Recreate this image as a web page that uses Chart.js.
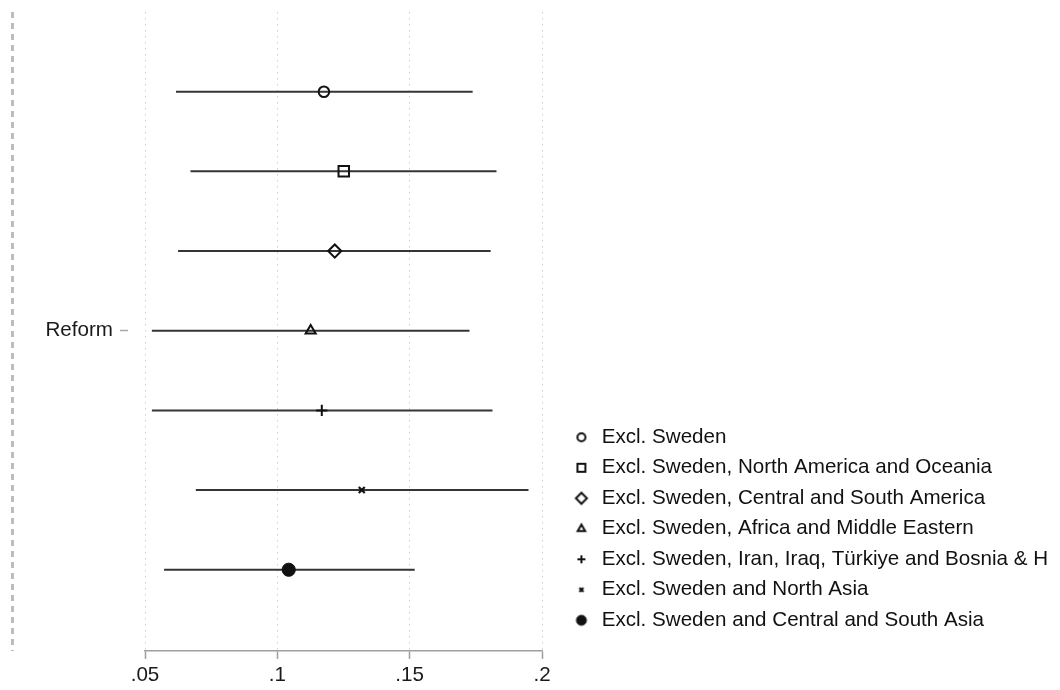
<!DOCTYPE html>
<html>
<head>
<meta charset="utf-8">
<title>Reform coefficient, excluding origin groups</title>
<script src="https://cdn.jsdelivr.net/npm/chart.js@4/dist/chart.umd.min.js"></script>
<style>
  html, body { margin: 0; padding: 0; background: #ffffff; }
  #wrap { width: 1060px; height: 690px; position: relative; }
</style>
</head>
<body>
<div id="wrap"><canvas id="chart" width="1060" height="690"></canvas></div>
<script>
// ---- data ----------------------------------------------------------------
const seriesNames = [
  'Excl. Sweden',
  'Excl. Sweden, North America and Oceania',
  'Excl. Sweden, Central and South America',
  'Excl. Sweden, Africa and Middle Eastern',
  'Excl. Sweden, Iran, Iraq, Türkiye and Bosnia & H',
  'Excl. Sweden and North Asia',
  'Excl. Sweden and Central and South Asia'
];
const estimates = [0.1176, 0.1251, 0.1217, 0.1126, 0.1168, 0.1319, 0.1043];
const ciLower   = [0.0617, 0.0672, 0.0625, 0.0526, 0.0526, 0.0692, 0.0572];
const ciUpper   = [0.1738, 0.1828, 0.1806, 0.1726, 0.1813, 0.1949, 0.1519];
const xTickValues = [0.05, 0.10, 0.15, 0.20];
const xTickLabels = ['.05', '.1', '.15', '.2'];
const coefficientName = 'Reform';

// ---- appearance ----------------------------------------------------------
const HOLLOW = 'rgba(0,0,0,0)';
const INK = '#111111';
const FONT_SIZE = 20.6;
// plot markers (radius) and the smaller legend keys (keyRadius)
const markerLook = [
  { style: 'circle',   radius: 5.3, keyRadius: 4.0, fill: HOLLOW, width: 2 },
  { style: 'rect',     radius: 7.4, keyRadius: 5.6, fill: HOLLOW, width: 2 },
  { style: 'rectRot',  radius: 6.6, keyRadius: 5.5, fill: HOLLOW, width: 2 },
  { style: 'triangle', radius: 5.8, keyRadius: 4.3, fill: HOLLOW, width: 2 },
  { style: 'cross',    radius: 5.6, keyRadius: 4.0, fill: HOLLOW, width: 2 },
  { style: 'crossRot', radius: 4.2, keyRadius: 2.8, fill: HOLLOW, width: 2.2 },
  { style: 'circle',   radius: 6.6, keyRadius: 5.0, fill: INK,    width: 1 }
];

Chart.defaults.font.family = "'Liberation Sans', Arial, Helvetica, sans-serif";
Chart.defaults.font.size = FONT_SIZE;
Chart.defaults.color = '#1a1a1a';

const nRows = seriesNames.length;
const rowOf = i => i + 1;                     // one row per specification, top to bottom

// confidence-interval segments (drawn underneath)
const ciSets = seriesNames.map((name, i) => ({
  type: 'scatter',
  data: [{ x: ciLower[i], y: rowOf(i) }, { x: ciUpper[i], y: rowOf(i) }],
  showLine: true,
  borderColor: '#353535',
  borderWidth: 2,
  pointRadius: 0,
  pointHoverRadius: 0,
  order: 2
}));

// point estimates
const pointSets = seriesNames.map((name, i) => ({
  type: 'scatter',
  label: name,
  data: [{ x: estimates[i], y: rowOf(i) }],
  pointStyle: markerLook[i].style,
  pointRadius: markerLook[i].radius,
  pointHoverRadius: markerLook[i].radius,
  pointBorderWidth: markerLook[i].width,
  pointBackgroundColor: markerLook[i].fill,
  pointBorderColor: INK,
  backgroundColor: markerLook[i].fill,
  borderColor: INK,
  borderWidth: markerLook[i].width,
  order: 1
}));

// small legend keys, drawn with the library's own point renderer
function legendKey(look) {
  const size = 18;
  const c = document.createElement('canvas');
  c.width = size; c.height = size;
  const ctx = c.getContext('2d');
  ctx.fillStyle = look.fill;
  ctx.strokeStyle = INK;
  ctx.lineWidth = look.width;
  Chart.helpers.drawPoint(ctx, {
    pointStyle: look.style, radius: look.keyRadius, rotation: 0, borderWidth: look.width
  }, size / 2, size / 2);
  return c;
}
const legendKeys = markerLook.map(legendKey);

// grey dashed frame line down the left edge of the graph region
const frameLine = {
  id: 'frameLine',
  beforeDraw(chart) {
    const { ctx, chartArea } = chart;
    ctx.save();
    ctx.strokeStyle = '#bdbdbd';
    ctx.lineWidth = 3;
    ctx.setLineDash([6, 5]);
    ctx.beginPath();
    ctx.moveTo(12.5, chartArea.top);
    ctx.lineTo(12.5, chartArea.bottom);
    ctx.stroke();
    ctx.restore();
  }
};

// legend sits in the lower right, a little away from the plot
const LEGEND_LEFT = 561.5;
const LEGEND_BOTTOM = 640.5;
const legendPlacement = {
  id: 'legendPlacement',
  afterLayout(chart) {
    const lg = chart.legend;
    if (!lg) return;
    const dy = LEGEND_BOTTOM - lg.bottom;
    lg.left = LEGEND_LEFT;
    lg.right = chart.width;
    lg.width = lg.right - lg.left;
    lg.top += dy;
    lg.bottom += dy;
  }
};

new Chart(document.getElementById('chart'), {
  type: 'scatter',
  data: { datasets: [...ciSets, ...pointSets] },
  options: {
    responsive: false,
    animation: false,
    events: [],
    layout: { padding: { left: 45, right: 78, top: 12, bottom: 5 } },
    scales: {
      x: {
        type: 'linear',
        min: xTickValues[0],
        max: xTickValues[xTickValues.length - 1],
        afterBuildTicks: axis => { axis.ticks = xTickValues.map(v => ({ value: v })); },
        afterFit: axis => { axis.height = 34; },
        ticks: {
          callback: (v, i) => xTickLabels[i],
          padding: 4,
          maxRotation: 0,
          autoSkip: false,
          color: '#1a1a1a',
          font: { size: FONT_SIZE }
        },
        grid: {
          color: '#cfcfcf',
          lineWidth: 1,
          tickLength: 8,
          tickColor: '#9f9f9f',
          tickWidth: 1.5,
          tickBorderDash: []
        },
        border: { display: true, color: '#9f9f9f', width: 1.5, dash: [1.5, 4.5] }
      },
      y: {
        type: 'linear',
        min: 0,
        max: 8.02,
        reverse: true,
        afterBuildTicks: axis => { axis.ticks = [{ value: (nRows + 1) / 2 }]; },
        afterFit: axis => { axis.width = 100; axis.paddingTop = 0; axis.paddingBottom = 0; },
        ticks: {
          callback: () => coefficientName,
          padding: 7,
          color: '#1a1a1a',
          font: { size: FONT_SIZE }
        },
        grid: {
          drawOnChartArea: false,
          tickLength: 25,
          tickColor: '#a8a8a8',
          tickWidth: 1.5,
          tickBorderDash: [8, 60]
        },
        border: { display: false }
      }
    },
    plugins: {
      tooltip: { enabled: false },
      legend: {
        position: 'right',
        align: 'end',
        maxWidth: 440,
        labels: {
          usePointStyle: true,
          boxWidth: 20,
          boxHeight: 8,
          padding: 9.9,
          color: '#111111',
          font: { size: FONT_SIZE },
          generateLabels: chart => Chart.defaults.plugins.legend.labels.generateLabels(chart)
            .filter(item => !!item.text)
            .map(item => Object.assign(item, { pointStyle: legendKeys[item.datasetIndex - nRows] }))
        }
      }
    }
  },
  plugins: [frameLine, legendPlacement]
});
</script>
</body>
</html>
